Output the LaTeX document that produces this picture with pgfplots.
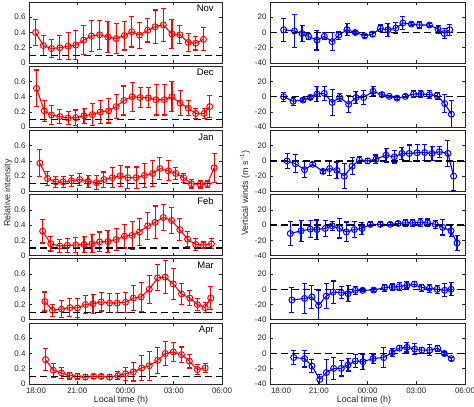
\documentclass[border=0pt]{standalone}
\usepackage{pgfplots}
\pgfplotsset{compat=1.18}
\usepackage{fontspec}
\setmainfont{Liberation Sans}
\definecolor{axgray}{RGB}{38,38,38}
\definecolor{mred}{RGB}{255,0,0}
\definecolor{mblue}{RGB}{0,0,255}
\pgfplotsset{
  base/.style={scale only axis, xmin=18, xmax=30, xtick={18,21,24,27,30},
    xticklabels={}, tick align=inside, major tick length=3bp,
    axis line style={axgray, line width=0.7bp}, tick style={axgray, line width=0.6bp},
    tick label style={font=\fontsize{8}{9}\selectfont, text=axgray}, clip=true},
  lpanel/.style={base, width=193bp, height=61bp, ymin=0, ymax=0.8,
    ytick={0,0.2,0.4,0.6}, yticklabels={0,0.2,0.4,0.6}},
  rpanel/.style={base, width=195bp, height=61bp, ymin=-40, ymax=40,
    ytick={-40,-20,0,20}, yticklabels={-40,-20,0,20}},
  lbottom/.style={xticklabels={\hspace*{14bp}18:00,21:00,00:00,03:00,06:00}},
  rbottom/.style={xticklabels={\hspace*{22bp}18:00,21:00,00:00,03:00,06:00}},
  ser/.style={color=#1, line width=1.1bp, mark=o, mark size=3bp,
    mark options={solid, line width=1bp, color=#1},
    error bars/y dir=both, error bars/y explicit,
    error bars/error bar style={solid, line width=1.1bp, color=#1},
    error bars/error mark=-,
    error bars/error mark options={rotate=90, solid, line width=1.1bp, mark size=2.5bp, color=#1}},
}
\tikzset{
  zline/.style={black, line width=1.3bp, dash pattern=on 7bp off 4bp},
  mlab/.style={anchor=north east, inner sep=0pt, font=\fontsize{9.5}{10}\selectfont, text=black},
}
\begin{document}
\begin{tikzpicture}
% ---------------- LEFT COLUMN ----------------
\begin{axis}[lpanel, at={(29bp,344bp)}, anchor=south west]
\addplot[ser=mred] table[x index=0, y index=1, y error index=2] {
18.41 0.40 0.165
18.89 0.23 0.13
19.40 0.19 0.12
19.92 0.20 0.16
20.43 0.22 0.18
20.91 0.235 0.19
21.40 0.30 0.19
21.88 0.355 0.20
22.39 0.37 0.19
22.91 0.34 0.20
23.42 0.32 0.20
23.94 0.36 0.19
24.39 0.41 0.20
24.87 0.365 0.17
25.38 0.43 0.155
25.84 0.475 0.22
26.35 0.50 0.22
26.89 0.38 0.19
27.38 0.37 0.12
27.90 0.27 0.12
28.37 0.26 0.09
28.85 0.31 0.15
};
\addplot[zline] coordinates {(18,0.1) (30,0.1)};
\node[mlab] at (rel axis cs:0.958,0.95) {Nov};
\end{axis}

\begin{axis}[lpanel, at={(29bp,279.8bp)}, anchor=south west]
\addplot[ser=mred] table[x index=0, y index=1, y error index=2] {
18.47 0.51 0.24
18.95 0.215 0.14
19.40 0.16 0.12
19.92 0.14 0.09
20.43 0.12 0.08
20.91 0.125 0.10
21.42 0.15 0.10
21.94 0.165 0.14
22.43 0.20 0.15
22.95 0.215 0.16
23.42 0.27 0.16
23.90 0.35 0.19
24.41 0.40 0.19
24.91 0.39 0.13
25.42 0.385 0.13
25.90 0.36 0.20
26.41 0.36 0.20
26.89 0.40 0.20
27.40 0.315 0.165
27.90 0.25 0.10
28.37 0.18 0.07
28.89 0.18 0.07
29.24 0.27 0.14
};
\addplot[zline] coordinates {(18,0.1) (30,0.1)};
\node[mlab] at (rel axis cs:0.958,0.95) {Dec};
\end{axis}

\begin{axis}[lpanel, at={(29bp,215.6bp)}, anchor=south west]
\addplot[ser=mred] table[x index=0, y index=1, y error index=2] {
18.68 0.37 0.18
19.15 0.17 0.09
19.67 0.125 0.07
20.12 0.125 0.07
20.64 0.14 0.07
21.15 0.155 0.08
21.67 0.13 0.08
22.19 0.115 0.09
22.66 0.155 0.10
23.18 0.18 0.13
23.67 0.205 0.14
24.14 0.18 0.14
24.66 0.18 0.14
25.18 0.21 0.16
25.69 0.235 0.17
26.14 0.30 0.14
26.66 0.27 0.13
27.13 0.235 0.08
27.61 0.18 0.06
28.10 0.10 0.055
28.64 0.095 0.05
29.09 0.10 0.045
29.51 0.31 0.19
};
\addplot[zline] coordinates {(18,0.1) (30,0.1)};
\node[mlab] at (rel axis cs:0.958,0.95) {Jan};
\end{axis}

\begin{axis}[lpanel, at={(29bp,151.4bp)}, anchor=south west]
\addplot[ser=mred] table[x index=0, y index=1, y error index=2] {
18.85 0.32 0.155
19.36 0.155 0.095
19.92 0.125 0.09
20.39 0.135 0.09
20.91 0.14 0.10
21.42 0.145 0.11
21.92 0.155 0.12
22.39 0.18 0.13
22.91 0.185 0.14
23.42 0.21 0.145
23.94 0.255 0.155
24.41 0.265 0.18
24.87 0.31 0.18
25.38 0.39 0.18
25.84 0.435 0.215
26.35 0.50 0.17
26.87 0.46 0.17
27.38 0.34 0.145
27.86 0.215 0.10
28.37 0.145 0.08
28.85 0.14 0.05
29.34 0.155 0.065
};
\addplot[zline] coordinates {(18,0.1) (30,0.1)};
\node[mlab] at (rel axis cs:0.958,0.95) {Feb};
\end{axis}

\begin{axis}[lpanel, at={(29bp,87.2bp)}, anchor=south west]
\addplot[ser=mred] table[x index=0, y index=1, y error index=2] {
18.99 0.24 0.125
19.46 0.125 0.08
20.02 0.14 0.11
20.54 0.16 0.115
21.01 0.155 0.12
21.51 0.20 0.115
21.98 0.21 0.125
22.49 0.235 0.12
23.01 0.22 0.12
23.48 0.22 0.13
24.00 0.23 0.13
24.49 0.285 0.16
24.97 0.30 0.19
25.48 0.40 0.185
26.00 0.55 0.17
26.47 0.56 0.22
26.97 0.47 0.20
27.48 0.34 0.14
28.00 0.285 0.10
28.47 0.20 0.08
28.95 0.16 0.065
29.30 0.285 0.15
};
\addplot[zline] coordinates {(18,0.1) (30,0.1)};
\node[mlab] at (rel axis cs:0.958,0.95) {Mar};
\end{axis}

\begin{axis}[lpanel, lbottom, at={(29bp,23bp)}, anchor=south west]
\addplot[ser=mred] table[x index=0, y index=1, y error index=2] {
19.03 0.32 0.145
19.51 0.18 0.09
20.02 0.145 0.075
20.54 0.11 0.045
21.01 0.10 0.035
21.51 0.09 0.03
22.02 0.10 0.03
22.49 0.10 0.03
23.01 0.09 0.03
23.53 0.11 0.055
24.00 0.135 0.085
24.49 0.16 0.12
25.01 0.21 0.16
25.48 0.24 0.19
26.00 0.31 0.17
26.47 0.40 0.16
26.97 0.42 0.13
27.48 0.385 0.10
27.97 0.30 0.09
28.47 0.19 0.07
28.95 0.21 0.06
};
\addplot[zline] coordinates {(18,0.1) (30,0.1)};
\node[mlab] at (rel axis cs:0.958,0.95) {Apr};
\end{axis}

% ---------------- RIGHT COLUMN ----------------
\begin{axis}[rpanel, at={(270bp,344bp)}, anchor=south west]
\addplot[ser=mblue] table[x index=0, y index=1, y error index=2] {
18.84 3.6 15
19.50 2 22
19.97 -1.3 10
20.38 -5.3 4
20.89 -10 13
21.34 -5 4.5
21.82 -12 12
22.23 -3.6 5
22.74 3.6 8
23.25 0 2
23.83 -4.4 2
24.32 -2.2 3.5
24.79 5.3 4.5
25.26 3.6 8.5
25.75 5.8 7.5
26.18 12.4 8.5
26.70 11 2
27.19 9.8 4.5
27.81 9.8 2.5
28.34 4.4 5
28.73 -1.3 6.5
29.06 3.6 7
};
\addplot[zline] coordinates {(18,0) (30,0)};
\end{axis}

\begin{axis}[rpanel, at={(270bp,279.8bp)}, anchor=south west]
\addplot[ser=mblue] table[x index=0, y index=1, y error index=2] {
18.84 0 6
19.42 -6 5.5
20.03 -4.4 2
20.48 -1 2
20.89 3.5 10
21.34 4.4 9
21.82 -7.5 17
22.29 -1 5.5
22.84 -10 11
23.29 -1 7.5
23.76 -1 9.5
24.34 7 6
24.89 2.7 3
25.34 0.4 1.5
25.82 -1.8 1.5
26.33 0.4 2
26.84 3.5 4.5
27.29 3.5 4.5
27.81 2.7 5
28.28 1.3 4.5
28.75 -9 11.5
29.16 -23 18.5
};
\addplot[zline] coordinates {(18,0) (30,0)};
\end{axis}

\begin{axis}[rpanel, at={(270bp,215.6bp)}, anchor=south west]
\addplot[ser=mblue] table[x index=0, y index=1, y error index=2] {
19.05 0 9.5
19.56 -3.6 12
20.13 -11.5 10.5
20.63 -4.4 2.2
21.26 -13.8 3
21.67 -10 9
22.12 -12.5 11
22.57 -20 16
23.05 -7 11
23.50 1 4.5
24.01 0 3
24.52 2.2 5.5
25.14 7.5 9
25.65 5.3 8
26.12 9.8 8
26.57 9.8 11
27.05 10.7 10.5
27.52 11 10.5
27.97 9.8 9
28.42 12 7
28.95 9.8 17
29.30 -20 19.5
};
\addplot[zline] coordinates {(18,0) (30,0)};
\end{axis}

\begin{axis}[rpanel, at={(270bp,151.4bp)}, anchor=south west]
\addplot[ser=mblue] table[x index=0, y index=1, y error index=2] {
19.25 -11 16
19.91 -7.5 14
20.48 -5.3 11
20.89 -5.8 12.5
21.40 -4.4 10
21.82 -1 6
22.29 -4.4 12.5
22.70 -9 13
23.19 -5.8 10
23.66 -4.4 8
24.17 1 3
24.79 1 3
25.40 1 2
25.88 2.2 3
26.33 3 4.5
26.78 3 4.5
27.25 3.5 5
27.70 3 5
28.17 1 5.5
28.63 -3 10
29.14 -7.5 8
29.51 -23.5 10
};
\addplot[zline] coordinates {(18,0) (30,0)};
\end{axis}

\begin{axis}[rpanel, at={(270bp,87.2bp)}, anchor=south west]
\addplot[ser=mblue] table[x index=0, y index=1, y error index=2] {
19.35 -14 16
20.13 -12 19.5
20.58 -10 15.5
20.99 -21 19
21.46 -9 16.5
21.88 -3.6 14.5
22.39 -4.4 8
22.80 -5.8 10.5
23.25 -1.3 5
23.70 -1.3 2
24.38 -1 2
25.06 2.2 4.5
25.51 3 4
25.96 3.5 5
26.43 5.3 4.5
26.88 6.7 3.5
27.35 2.2 4.5
27.81 1.3 5
28.28 0 5.3
28.75 -1.3 8.5
29.14 0 8.5
};
\addplot[zline] coordinates {(18,0) (30,0)};
\end{axis}

\begin{axis}[rpanel, rbottom, at={(270bp,23bp)}, anchor=south west]
\addplot[ser=mblue] table[x index=0, y index=1, y error index=2] {
19.46 -5.3 9.5
20.13 -6.7 11
20.58 -16.4 9
21.06 -34 7
21.47 -25 17
21.92 -19.5 14.5
22.39 -19.5 10
22.80 -15 8
23.25 -9.8 9
23.72 -10.7 10
24.34 -6.7 6
25.00 -5.3 13
25.51 1.3 5
25.96 7 3.5
26.43 8 6
26.90 5.8 7
27.35 4.4 4
27.83 4.4 7.5
28.32 6.7 4
28.73 0 2
29.16 -6.7 2
};
\addplot[zline] coordinates {(18,0) (30,0)};
\end{axis}

% ---------------- LABELS ----------------
\node[rotate=90, font=\fontsize{9}{10}\selectfont, text=axgray] at (8bp,214bp) {Relative intensity};
\node[rotate=90, font=\fontsize{9}{10}\selectfont, text=axgray] at (245bp,214bp) {Vertical winds (m s\textsuperscript{−1})};
\node[font=\fontsize{9}{10}\selectfont, text=axgray] at (121bp,6.5bp) {Local time (h)};
\node[font=\fontsize{9}{10}\selectfont, text=axgray] at (364bp,6.5bp) {Local time (h)};

\pgfresetboundingbox
\path[use as bounding box] (0,0) rectangle (474bp,407bp);
\end{tikzpicture}
\end{document}
